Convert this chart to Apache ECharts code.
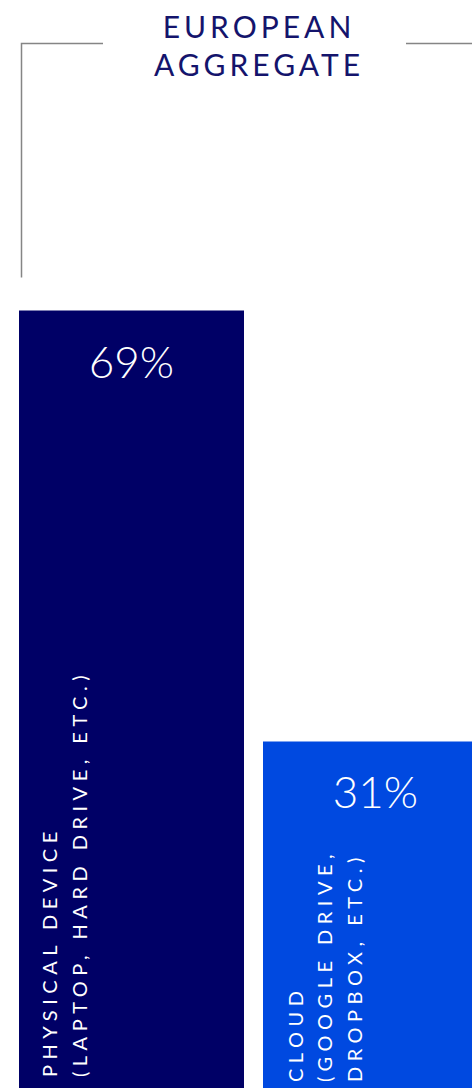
<!DOCTYPE html>
<html>
<head>
<meta charset="utf-8">
<script src="https://cdn.jsdelivr.net/npm/echarts@6/dist/echarts.min.js"></script>
<style>
  html, body { margin: 0; padding: 0; background: #ffffff; }
  #chart { width: 472px; height: 1088px; }
</style>
</head>
<body>
<div id="chart"></div>
<script>
// Where respondents keep their files (share of respondents, %)
const titleText = 'EUROPEAN\nAGGREGATE';
const categories = [
  'PHYSICAL DEVICE\n(LAPTOP, HARD DRIVE, ETC.)',
  'CLOUD\n(GOOGLE DRIVE,\nDROPBOX, ETC.)'
];
const shares = [69, 31];
const barColors = ['#000066', '#0049E0'];

const FONT = 'Lato, "Open Sans", sans-serif';

// per-bar placement of the rotated category caption
// (offset is in the rotated frame: x runs up the bar, y runs right)
const captionStyle = [
  { position: [45, '100%'], offset: [16, 0] },
  { position: [61, '100%'], offset: [11, 0] }
];

const chart = echarts.init(document.getElementById('chart'), null, { renderer: 'svg' });

chart.setOption({
  animation: false,
  backgroundColor: '#ffffff',
  title: {
    text: titleText,
    left: 254,
    top: 2,
    textAlign: 'center',
    textStyle: {
      fontFamily: FONT,
      fontWeight: 400,
      fontSize: 30,
      lineHeight: 38,
      color: '#14146c'
    }
  },
  grid: {
    left: 9.5, top: -41, width: 488, height: 1134,
    containLabel: false,
    outerBoundsMode: 'none'
  },
  xAxis: {
    type: 'category',
    data: categories,
    show: false
  },
  yAxis: {
    type: 'value',
    min: 0,
    max: 100,
    show: false
  },
  graphic: [
    {
      type: 'polyline',
      silent: true,
      shape: { points: [[103, 43.5], [21.5, 43.5], [21.5, 277.5]] },
      style: { stroke: '#858585', lineWidth: 1.5, fill: null }
    },
    {
      type: 'line',
      silent: true,
      shape: { x1: 406, y1: 43.5, x2: 472, y2: 43.5 },
      style: { stroke: '#858585', lineWidth: 1.5 }
    }
  ],
  series: [
    {
      type: 'bar',
      barWidth: 225,
      silent: true,
      data: shares.map((v, i) => ({ value: v, itemStyle: { color: barColors[i] } })),
      label: {
        show: true,
        position: ['50%', 50],
        align: 'center',
        verticalAlign: 'middle',
        formatter: '{c}%',
        color: '#ffffff',
        fontFamily: FONT,
        fontWeight: 300,
        fontSize: 44
      }
    },
    {
      type: 'bar',
      barWidth: 225,
      barGap: '-100%',
      silent: true,
      itemStyle: { color: 'rgba(0,0,0,0)' },
      data: shares.map((v, i) => ({
        value: v,
        label: Object.assign({}, captionStyle[i])
      })),
      label: {
        show: true,
        rotate: 90,
        align: 'left',
        verticalAlign: 'middle',
        formatter: p => categories[p.dataIndex],
        color: '#ffffff',
        fontFamily: FONT,
        fontWeight: 400,
        fontSize: 20,
        lineHeight: 29.5
      }
    }
  ]
});

// letter tracking for the capitalised captions (percent values stay untracked)
function applyTracking() {
  document.querySelectorAll('#chart svg text').forEach(t => {
    if (/%/.test(t.textContent)) {
      t.style.letterSpacing = '0px';
    } else {
      const size = parseFloat(getComputedStyle(t).fontSize);
      t.style.letterSpacing = size > 24 ? '4px' : '5.5px';
    }
  });
}
applyTracking();
chart.on('finished', applyTracking);
</script>
</body>
</html>
